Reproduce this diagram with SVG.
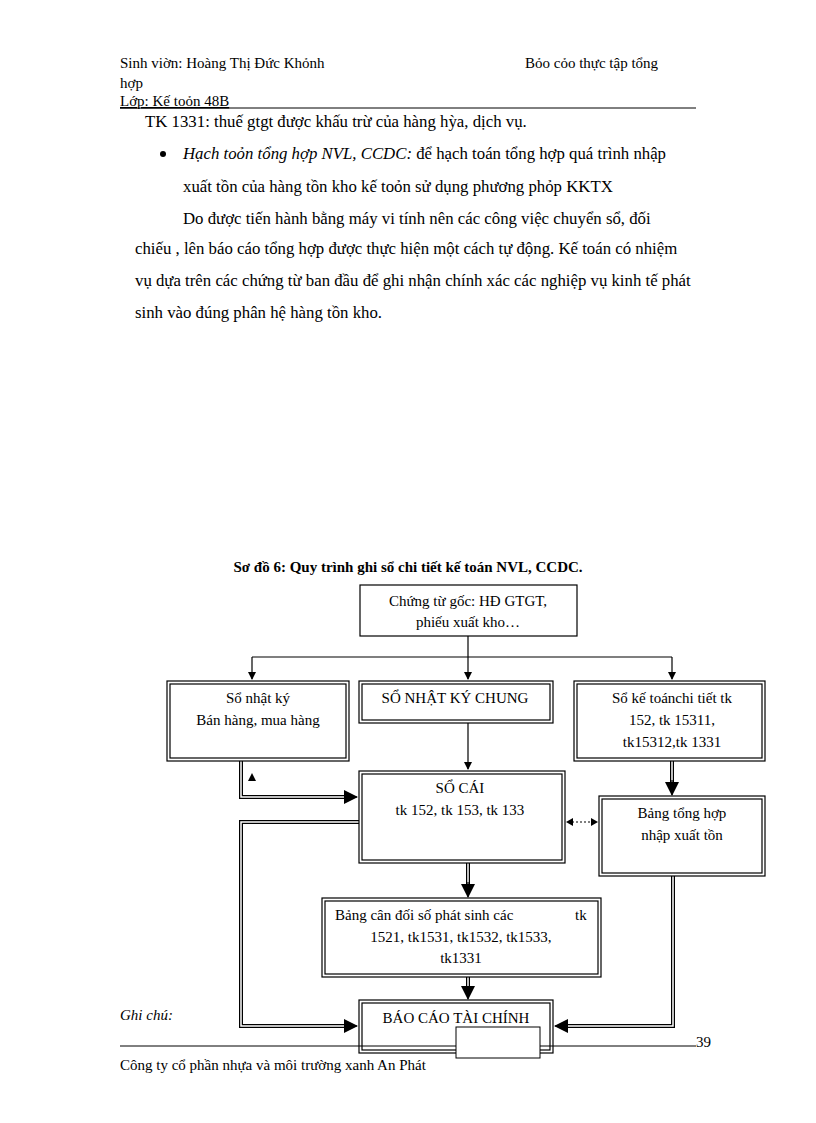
<svg xmlns="http://www.w3.org/2000/svg" width="816" height="1123" viewBox="0 0 816 1123">
<style>
text{font-family:"Liberation Serif","DejaVu Serif",serif;font-size:15px;fill:#000}
.t{font-size:16.8px}
.c{text-anchor:middle}
.b{fill:#fff;stroke:#000;stroke-width:1.2}
.ln{fill:none;stroke:#000;stroke-width:1.2}
.dbl{fill:none;stroke:#000;stroke-width:4}
.dbw{fill:none;stroke:#fff;stroke-width:1.5}
</style>
<defs>
<marker id="a" markerWidth="8" markerHeight="8" refX="7" refY="4" orient="auto" markerUnits="userSpaceOnUse"><path d="M0,0L8,4L0,8z"/></marker>
<marker id="A" markerWidth="14" markerHeight="14" refX="13" refY="7" orient="auto" markerUnits="userSpaceOnUse"><path d="M0,0L14,7L0,14z"/></marker>
</defs>
<text x="120" y="68">Sinh viờn:  Hoàng Thị Đức Khỏnh</text>
<text x="525" y="68">Bỏo cỏo thực tập tổng</text>
<text x="120" y="88">hợp</text>
<text x="120" y="106" text-decoration="underline">Lớp: Kế toỏn 48B</text>
<line x1="120" y1="108" x2="696" y2="108" stroke="#000" stroke-width="1"/>
<text class="t" x="145" y="127">TK 1331: thuế gtgt được khấu trừ của hàng hỳa, dịch vụ.</text>
<circle cx="163" cy="154" r="3"/>
<text class="t" x="183" y="159"><tspan font-style="italic">Hạch toỏn tổng hợp NVL, CCDC:</tspan> để hạch toán tổng hợp quá trình nhập</text>
<text class="t" x="183" y="192">xuất tồn của hàng tồn kho kế toỏn sử dụng phương phỏp KKTX</text>
<text class="t" x="183" y="224">Do được tiến hành bằng máy vi tính nên các công việc chuyển sổ, đối</text>
<text class="t" x="135" y="254">chiếu , lên báo cáo tổng hợp được thực hiện một cách tự động. Kế toán có nhiệm</text>
<text class="t" x="135" y="286">vụ dựa trên các chứng từ ban đầu để ghi nhận chính xác các nghiệp vụ kinh tế phát</text>
<text class="t" x="135" y="318">sinh vào đúng phân hệ hàng tồn kho.</text>
<text x="408" y="572" class="c" font-weight="bold">Sơ đồ 6: Quy trình ghi sổ chi tiết kế toán NVL,  CCDC.</text>

<g id="connectors">
<path class="ln" d="M252,657H672"/>
<path class="ln" d="M468,636V679" marker-end="url(#a)"/>
<path class="ln" d="M252,657V679" marker-end="url(#a)"/>
<path class="ln" d="M672,657V679" marker-end="url(#a)"/>
<path class="ln" d="M468,723V769" marker-end="url(#a)"/>
<path class="dbl" d="M241,761V797H345"/><path class="dbw" d="M241,761V797H345"/>
<path class="ln" d="M345,797H357" marker-end="url(#A)"/>
<path d="M248,781L252,773L256,781z"/>
<path class="dbl" d="M359,822H241V1026H345"/><path class="dbw" d="M359,822H241V1026H345"/>
<path class="ln" d="M345,1026H357" marker-end="url(#A)"/>
<path class="dbl" d="M672,761V784"/><path class="dbw" d="M672,761V784"/>
<path class="ln" d="M672,780V795" marker-end="url(#A)"/>
<path class="dbl" d="M468,863V886"/><path class="dbw" d="M468,863V886"/>
<path class="ln" d="M468,882V897" marker-end="url(#A)"/>
<path class="dbl" d="M468,977V990"/><path class="dbw" d="M468,977V990"/>
<path class="ln" d="M468,986V999" marker-end="url(#A)"/>
<path class="dbl" d="M673,876V1026H567"/><path class="dbw" d="M673,876V1026H567"/>
<path class="ln" d="M567,1026H555" marker-end="url(#A)"/>
<path class="ln" d="M572,822H592" stroke-dasharray="2,2"/>
<path d="M566,822L573,818V826zM598,822L591,818V826z"/>
</g>

<g id="n-goc"><rect class="b" x="360" y="585" width="217" height="51"/>
<text class="c" x="468" y="606">Chứng từ gốc: HĐ GTGT,</text><text class="c" x="468" y="627">phiếu xuất kho…</text></g>
<g id="n-nk"><rect class="b" x="167" y="681" width="182" height="80"/><rect class="b" x="170" y="684" width="176" height="74"/>
<text class="c" x="258" y="703">Sổ nhật ký</text><text class="c" x="258" y="725">Bán hàng,  mua hàng</text></g>
<g id="n-nkc"><rect class="b" x="359" y="681" width="194" height="42"/><rect class="b" x="362" y="684" width="188" height="36"/>
<text class="c" x="455" y="703">SỔ NHẬT  KÝ CHUNG</text></g>
<g id="n-ct"><rect class="b" x="574" y="681" width="191" height="80"/><rect class="b" x="577" y="684" width="185" height="74"/>
<text class="c" x="672" y="703">Sổ kế toánchi tiết tk</text><text class="c" x="672" y="725">152, tk 15311,</text><text class="c" x="672" y="747">tk15312,tk 1331</text></g>
<g id="n-cai"><rect class="b" x="359" y="771" width="206" height="92"/><rect class="b" x="362" y="774" width="200" height="86"/>
<text class="c" x="460" y="793">SỔ CÁI</text><text class="c" x="460" y="815">tk 152, tk 153, tk 133</text></g>
<g id="n-th"><rect class="b" x="599" y="796" width="166" height="80"/><rect class="b" x="602" y="799" width="160" height="74"/>
<text class="c" x="682" y="818">Bảng tổng hợp</text><text class="c" x="682" y="840">nhập xuất tồn</text></g>
<g id="n-cd"><rect class="b" x="322" y="898" width="279" height="79"/><rect class="b" x="325" y="901" width="273" height="73"/>
<text x="335" y="920">Bảng  cân đối số phát  sinh các</text><text x="575" y="920">tk</text>
<text class="c" x="461" y="942">1521, tk1531, tk1532, tk1533,</text><text class="c" x="461" y="963">tk1331</text></g>
<g id="n-bc"><rect class="b" x="359" y="1000" width="194" height="53"/><rect class="b" x="362" y="1003" width="188" height="47"/>
<text class="c" x="456" y="1023">BÁO CÁO TÀI CHÍNH</text></g>
<text x="120" y="1020" font-style="italic">Ghi chú:</text>
<line x1="120" y1="1046" x2="696" y2="1046" stroke="#000" stroke-width="1"/>
<rect x="456" y="1027" width="84" height="31" fill="#fff" stroke="#000" stroke-width="1"/>
<text x="696" y="1047">39</text>
<text x="120" y="1070">Công ty cổ phần nhựa và môi trường xanh  An Phát</text>
</svg>
